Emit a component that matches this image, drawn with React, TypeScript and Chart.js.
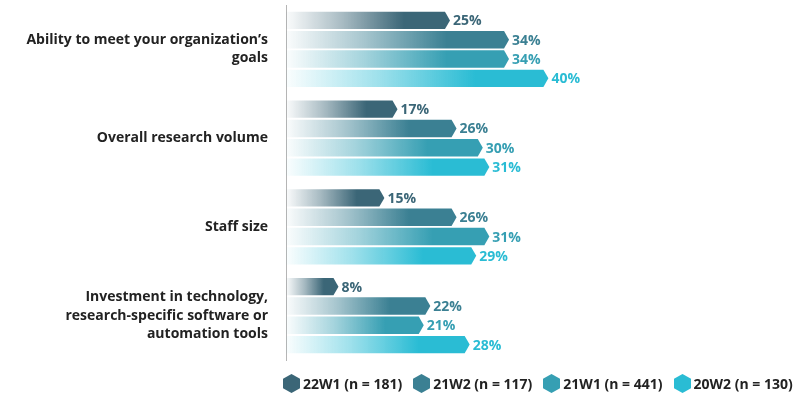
import React, { useEffect, useRef } from "react";
import { Chart, registerables } from "chart.js";

Chart.register(...registerables);

const categories: (string | string[])[] = [
  ["Ability to meet your organization’s", "goals"],
  "Overall research volume",
  "Staff size",
  ["Investment in technology,", "research-specific software or", "automation tools"],
];

const seriesNames = ["22W1 (n = 181)", "21W2 (n = 117)", "21W1 (n = 441)", "20W2 (n = 130)"];
const values22W1 = [25, 17, 15, 8];
const values21W2 = [34, 26, 26, 22];
const values21W1 = [34, 30, 31, 21];
const values20W2 = [40, 31, 29, 28];
const seriesColors = ["#3b6677", "#3b8093", "#369fb3", "#2abcd4"];

const FONT = "'Open Sans', 'DejaVu Sans', sans-serif";

function hexToRgb(hex: string) {
  const n = parseInt(hex.slice(1), 16);
  return [(n >> 16) & 255, (n >> 8) & 255, n & 255];
}

const arrowBars = {
  id: "arrowBars",
  afterDatasetsDraw(chart: any) {
    const ctx = chart.ctx;
    chart.data.datasets.forEach((ds: any, di: number) => {
      const meta = chart.getDatasetMeta(di);
      const color = seriesColors[di];
      const [r, g, b] = hexToRgb(color);
      meta.data.forEach((el: any, i: number) => {
        const { x, y, base, height } = el.getProps(["x", "y", "base", "height"], true);
        const top = y - height / 2;
        const bottom = y + height / 2;
        const tip = 5;
        const shoulder = Math.max(base, x - tip);
        const grad = ctx.createLinearGradient(base, 0, x, 0);
        grad.addColorStop(0, `rgba(${r},${g},${b},0.02)`);
        grad.addColorStop(0.35, `rgba(${r},${g},${b},0.45)`);
        grad.addColorStop(0.72, `rgba(${r},${g},${b},1)`);
        grad.addColorStop(1, `rgba(${r},${g},${b},1)`);
        ctx.save();
        ctx.beginPath();
        ctx.moveTo(base, top);
        ctx.lineTo(shoulder, top);
        ctx.lineTo(x, y);
        ctx.lineTo(shoulder, bottom);
        ctx.lineTo(base, bottom);
        ctx.closePath();
        ctx.fillStyle = grad;
        ctx.fill();
        ctx.fillStyle = color;
        ctx.font = `bold 14px ${FONT}`;
        ctx.textAlign = "left";
        ctx.textBaseline = "middle";
        ctx.fillText(`${ds.data[i]}%`, x + 3, y + 1);
        ctx.restore();
      });
    });
  },
};

function Hex({ color }: { color: string }) {
  return (
    <svg width="17" height="19" viewBox="0 0 17 19" style={{ display: "block" }}>
      <polygon points="8.5,0 17,4.75 17,14.25 8.5,19 0,14.25 0,4.75" fill={color} />
    </svg>
  );
}

export default function App() {
  const canvasRef = useRef<HTMLCanvasElement | null>(null);

  useEffect(() => {
    const allValues = [values22W1, values21W2, values21W1, values20W2];
    const chart = new Chart(canvasRef.current as HTMLCanvasElement, {
      type: "bar",
      data: {
        labels: categories,
        datasets: allValues.map((v, i) => ({
          label: seriesNames[i],
          data: v,
          backgroundColor: "rgba(0,0,0,0)",
          borderWidth: 0,
          categoryPercentage: 0.87,
          barPercentage: 0.9,
        })),
      },
      options: {
        indexAxis: "y",
        animation: false,
        responsive: false,
        maintainAspectRatio: false,
        layout: { padding: { top: 5, bottom: 33, left: 0, right: 24 } },
        plugins: {
          legend: { display: false },
          tooltip: { enabled: false },
        },
        scales: {
          x: { display: false, min: 0, max: 75 },
          y: {
            afterFit(scale: any) {
              scale.width = 286;
              scale.paddingTop = 0;
              scale.paddingBottom = 0;
            },
            grid: { display: false, drawTicks: false },
            border: { display: true, color: "#b5b5b5", width: 1 },
            ticks: {
              padding: 18,
              color: "#222222",
              font: { family: FONT, size: 14, weight: "bold", lineHeight: 1.3 },
            },
          },
        },
      },
      plugins: [arrowBars],
    } as any);
    return () => chart.destroy();
  }, []);

  return (
    <div style={{ position: "fixed", left: 0, top: 0, width: 802, height: 393, background: "#fff" }}>
      <canvas ref={canvasRef} width={802} height={393} style={{ display: "block" }} />
      <div
        style={{
          position: "absolute",
          left: 283,
          top: 374,
          display: "flex",
          alignItems: "center",
          fontFamily: FONT,
          fontWeight: "bold",
          fontSize: 14,
          color: "#222",
          whiteSpace: "nowrap",
        }}
      >
        {seriesNames.map((name, i) => (
          <div key={name} style={{ display: "flex", alignItems: "center", marginRight: 11 }}>
            <Hex color={seriesColors[i]} />
            <span style={{ marginLeft: 3 }}>{name}</span>
          </div>
        ))}
      </div>
    </div>
  );
}
